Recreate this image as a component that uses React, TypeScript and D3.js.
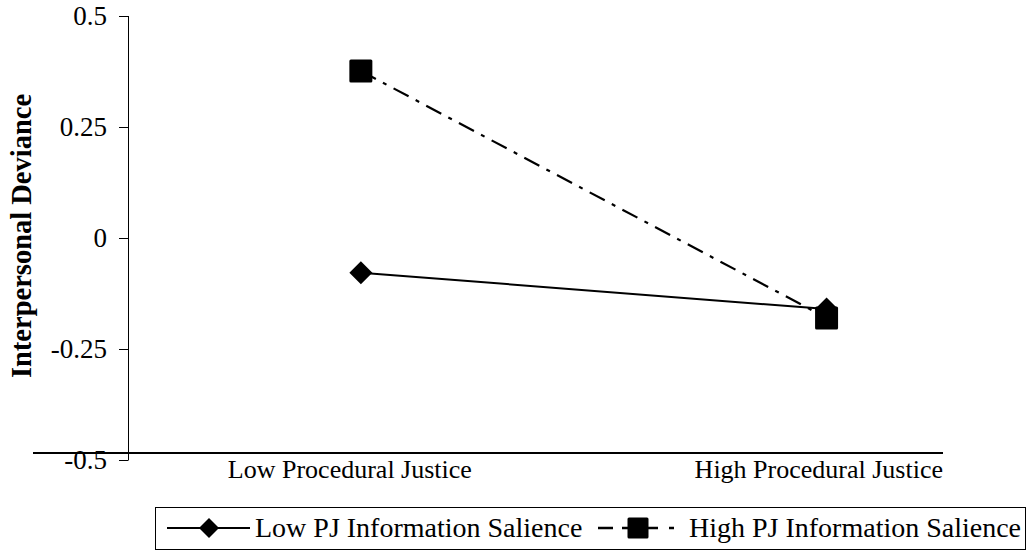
import * as React from "react";
import * as d3 from "d3";

const categories = ["Low Procedural Justice", "High Procedural Justice"];
const lowSalience = [-0.078, -0.16];
const highSalience = [0.376, -0.18];
const yTickValues = [0.5, 0.25, 0, -0.25, -0.5];
const yTickLabels = ["0.5", "0.25", "0", "-0.25", "-0.5"];
const seriesNames = ["Low PJ Information Salience", "High PJ Information Salience"];

const W = 1032;
const H = 550;
const FONT = "'Liberation Serif', 'Times New Roman', serif";
const DASH = "17 8 4 8";

function Diamond({ cx, cy, r }: { cx: number; cy: number; r: number }) {
  return <path d={`M${cx},${cy - r}L${cx + r},${cy}L${cx},${cy + r}L${cx - r},${cy}Z`} fill="#000" />;
}

function Square({ cx, cy, s }: { cx: number; cy: number; s: number }) {
  return <rect x={cx - s / 2} y={cy - s / 2} width={s} height={s} rx={1.5} fill="#000" />;
}

export default function App() {
  // category index scale; plot spans from the y axis to the end of the x axis line
  const x = d3.scaleLinear().domain([-0.5, 1.25]).range([128, 943]);
  const y = d3.scaleLinear().domain([-0.5, 0.5]).range([460, 16]);

  const line = d3
    .line<number>()
    .x((_, i) => x(i))
    .y((v) => y(v));

  return (
    <svg
      width={W}
      height={H}
      style={{ position: "absolute", left: 0, top: 0, background: "#fff" }}
      fontFamily={FONT}
    >
      {/* y axis */}
      <line x1={128.5} x2={128.5} y1={y(0.5)} y2={y(-0.5)} stroke="#000" strokeWidth={1} />
      {yTickValues.map((t, i) => (
        <g key={`yt-${t}`}>
          <line x1={119} x2={128.5} y1={Math.round(y(t)) + 0.5} y2={Math.round(y(t)) + 0.5} stroke="#000" />
          <text x={107} y={y(t)} dy="0.35em" textAnchor="end" fontSize={27}>
            {yTickLabels[i]}
          </text>
        </g>
      ))}

      {/* x axis baseline */}
      <line x1={33} x2={x.range()[1]} y1={453} y2={453} stroke="#000" strokeWidth={2} />
      <text x={x(0) - 11} y={478} textAnchor="middle" fontSize={26}>
        {categories[0]}
      </text>
      <text x={x.range()[1]} y={478} textAnchor="end" fontSize={26}>
        {categories[1]}
      </text>

      {/* y label */}
      <text
        transform={`translate(21,${y(0) - 2}) rotate(-90)`}
        textAnchor="middle"
        dominantBaseline="central"
        fontSize={28.5}
        fontWeight="bold"
      >
        Interpersonal Deviance
      </text>

      {/* lines */}
      <path d={line(lowSalience) ?? ""} fill="none" stroke="#000" strokeWidth={2} />
      <path d={line(highSalience) ?? ""} fill="none" stroke="#000" strokeWidth={2.2} strokeDasharray={DASH} />
      {lowSalience.map((v, i) => (
        <Diamond key={`d-${i}`} cx={x(i)} cy={y(v)} r={11.5} />
      ))}
      {highSalience.map((v, i) => (
        <Square key={`s-${i}`} cx={x(i)} cy={y(v)} s={23} />
      ))}

      {/* legend */}
      <rect x={155.5} y={507.5} width={870} height={42} fill="none" stroke="#000" strokeWidth={1} />
      <line x1={167} x2={250} y1={528} y2={528} stroke="#000" strokeWidth={2} />
      <Diamond cx={209} cy={528} r={10} />
      <text x={255} y={537} fontSize={28}>
        {seriesNames[0]}
      </text>
      <line x1={598} x2={675} y1={528} y2={528} stroke="#000" strokeWidth={2.4} strokeDasharray="15 9 36 11 5 100" />
      <Square cx={638} cy={528} s={21} />
      <text x={689} y={537} fontSize={28}>
        {seriesNames[1]}
      </text>
    </svg>
  );
}
